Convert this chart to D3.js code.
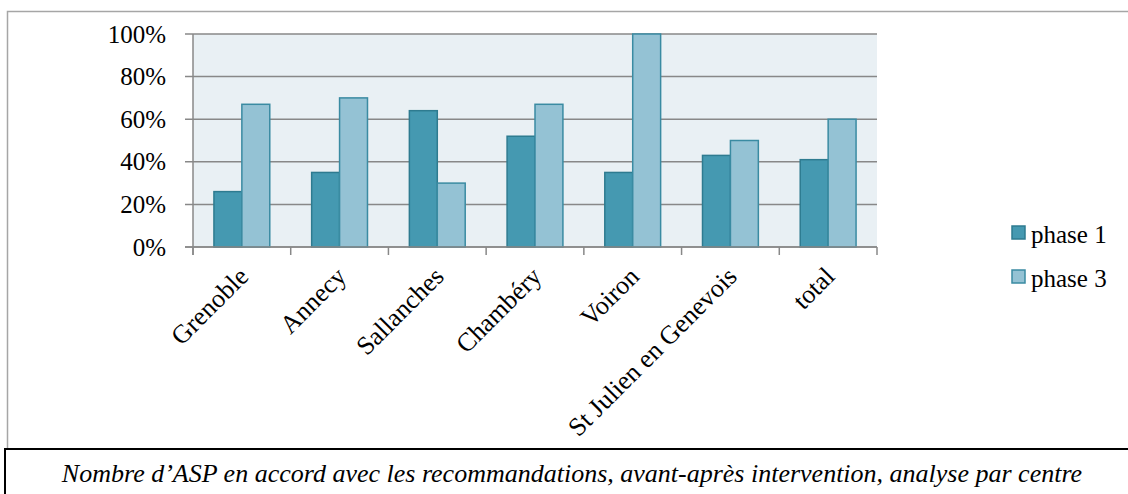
<!DOCTYPE html>
<html><head><meta charset="utf-8">
<script src="https://cdn.jsdelivr.net/npm/d3@7"></script>
<style>body{margin:0;background:#fff}svg{display:block}</style>
</head><body>
<script>
const categories = ["Grenoble","Annecy","Sallanches","Chambéry","Voiron","St Julien en Genevois","total"];
const seriesNames = ["phase 1","phase 3"];
const phase1 = [26,35,64,52,35,43,41];
const phase3 = [67,70,30,67,100,50,60];
const yTicks = [0,20,40,60,80,100];
const caption = "Nombre d\u2019ASP en accord avec les recommandations, avant-apr\u00e8s intervention, analyse par centre";

const W = 1128, H = 494;
const fills = ["#4599b1","#94c2d4"];
const strokes = ["#2e7b90","#3a8ba2"];
const FONT = "Liberation Serif";

const svg = d3.select("body").append("svg").attr("width",W).attr("height",H);

// chart border
svg.append("rect").attr("x",7.5).attr("y",11.5).attr("width",1125).attr("height",438)
  .attr("fill","#fff").attr("stroke","#a6a6a6").attr("stroke-width",1.5);

const L = 193, R = 877, T = 34, B = 247;
const x = d3.scaleBand().domain(categories).range([L,R]).paddingInner(0).paddingOuter(0);
const y = d3.scaleLinear().domain([0,100]).range([B,T]);
const bw = x.bandwidth()/3.5;

svg.append("rect").attr("x",L).attr("y",T).attr("width",R-L).attr("height",B-T).attr("fill","#e9f0f4");

// gridlines
svg.append("g").selectAll("line").data(yTicks).join("line")
  .attr("x1",L-8).attr("x2",R).attr("y1",d=>y(d)).attr("y2",d=>y(d))
  .attr("stroke","#888").attr("stroke-width",1.5);

// y labels
svg.append("g").selectAll("text").data(yTicks).join("text")
  .attr("x",166).attr("y",d=>y(d)+8.5).attr("text-anchor","end")
  .style("font-family",FONT).style("font-size","25px").attr("fill","#000")
  .text(d=>d+"%");

// bars
const data = [phase1, phase3];
data.forEach((vals,si)=>{
  svg.append("g").selectAll("rect").data(categories).join("rect")
    .attr("x",(c)=>x(c)+x.bandwidth()/2 - bw + si*bw)
    .attr("y",(c,i)=>y(vals[i]))
    .attr("width",bw)
    .attr("height",(c,i)=>y(0)-y(vals[i]))
    .attr("fill",fills[si]).attr("stroke",strokes[si]).attr("stroke-width",1.5);
});

// axes lines
svg.append("line").attr("x1",L).attr("x2",L).attr("y1",T).attr("y2",B+8).attr("stroke","#888").attr("stroke-width",1.5);
svg.append("line").attr("x1",L-8).attr("x2",R).attr("y1",B).attr("y2",B).attr("stroke","#888").attr("stroke-width",1.5);
const tickXs = categories.map(c=>x(c)).concat([R]);
svg.append("g").selectAll("line").data(tickXs).join("line")
  .attr("x1",d=>d).attr("x2",d=>d).attr("y1",B).attr("y2",B+8)
  .attr("stroke","#888").attr("stroke-width",1.5);

// x labels
svg.append("g").selectAll("text").data(categories).join("text")
  .attr("transform",c=>`translate(${x(c)+x.bandwidth()/2+8},${B+31}) rotate(-45)`)
  .attr("text-anchor","end")
  .style("font-family",FONT).style("font-size","26px").attr("fill","#000")
  .text(c=>c);

// legend
const lg = svg.append("g");
seriesNames.forEach((s,i)=>{
  lg.append("rect").attr("x",1012).attr("y",226+i*44).attr("width",13).attr("height",13)
    .attr("fill",fills[i]).attr("stroke",strokes[i]).attr("stroke-width",1.5);
  lg.append("text").attr("x",1031).attr("y",243+i*44)
    .style("font-family",FONT).style("font-size","25px").attr("fill","#000").text(s);
});

// caption box
svg.append("rect").attr("x",5).attr("y",449).attr("width",1130).attr("height",50)
  .attr("fill","#fff").attr("stroke","#000").attr("stroke-width",2);
svg.append("text").attr("x",572).attr("y",482).attr("text-anchor","middle")
  .style("font-family",FONT).style("font-style","italic").style("font-size","26px").attr("fill","#000")
  .text(caption);
</script>
</body></html>
